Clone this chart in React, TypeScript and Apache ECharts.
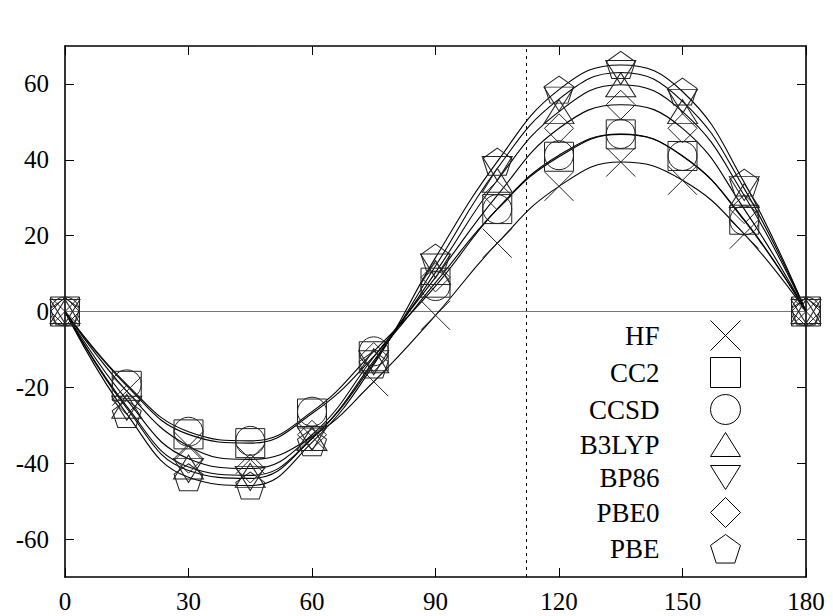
import React, { useEffect, useRef } from 'react';
import * as echarts from 'echarts';

const angles = [0, 15, 30, 45, 60, 75, 90, 105, 120, 135, 150, 165, 180];
const hf = [0, -21, -35.5, -39, -33, -18.5, -1, 18, 33, 39.4, 34.6, 20.4, 0];
const cc2 = [0, -19.6, -32.4, -34.7, -26.9, -11.8, 7.6, 27, 40.8, 46.7, 41, 24.2, 0];
const ccsd = [0, -19.2, -31.7, -34.1, -26.4, -10.5, 6.7, 27, 41.2, 46.8, 41, 24, 0];
const b3lyp = [0, -25, -41, -43.2, -33.5, -13, 10.3, 34.6, 52.7, 59.8, 52.7, 30.6, 0];
const bp86 = [0, -25.5, -41.9, -44, -33.5, -13.5, 12, 37.7, 56, 63, 55.4, 32.4, 0];
const pbe0 = [0, -23.3, -38.8, -41.4, -32.5, -12, 9, 30.6, 48.3, 54.5, 48.3, 27, 0];
const pbe = [0, -27, -43.7, -45.9, -34.5, -14, 14.2, 39.5, 58.5, 65, 58, 34, 0];

const seriesNames = ['HF', 'CC2', 'CCSD', 'B3LYP', 'BP86', 'PBE0', 'PBE'];
const seriesValues = [hf, cc2, ccsd, b3lyp, bp86, pbe0, pbe];
const xTicks = [0, 30, 60, 90, 120, 150, 180];
const yTicks = [-60, -40, -20, 0, 20, 40, 60];
const dashedAt = 112;

const symbols: Record<string, string> = {
  HF: 'path://M0 0L30 30M30 0L0 30',
  CC2: 'rect',
  CCSD: 'circle',
  B3LYP: 'path://M15 0L30 24L0 24Z',
  BP86: 'path://M0 0L30 0L15 24Z',
  PBE0: 'diamond',
  PBE: 'path://M9.51 0L19.02 6.91L15.39 18.09L3.63 18.09L0 6.91Z',
};
const symbolSizes: Record<string, number[]> = {
  HF: [29, 29],
  CC2: [29, 29],
  CCSD: [29, 29],
  B3LYP: [30, 24],
  BP86: [30, 24],
  PBE0: [29, 29],
  PBE: [29, 27],
};

const FONT = '"Liberation Serif", "Times New Roman", serif';

export default function App() {
  const ref = useRef<HTMLDivElement>(null);
  useEffect(() => {
    if (!ref.current) return;
    const chart = echarts.init(ref.current, undefined, { renderer: 'svg' });
    const axisLine = { show: true, onZero: false, lineStyle: { color: '#000', width: 1.6 } };
    const tick = { show: true, inside: true, length: 9, lineStyle: { color: '#000', width: 1 } };
    const series: any[] = seriesNames.map((name, i) => ({
      name,
      type: 'line',
      xAxisIndex: 0,
      yAxisIndex: 0,
      data: angles.map((a, j) => [a, seriesValues[i][j]]),
      smooth: 0.45,
      symbol: symbols[name],
      symbolSize: symbolSizes[name],
      showAllSymbol: true,
      lineStyle: { color: '#000', width: 1.1 },
      itemStyle: { color: 'transparent', borderColor: '#222', borderWidth: 1 },
      emphasis: { disabled: true },
      silent: true,
      z: 3,
    }));
    series[0].markLine = {
      silent: true,
      symbol: ['none', 'none'],
      label: { show: false },
      animation: false,
      z: 1,
      data: [
        { yAxis: 0, lineStyle: { color: '#777', width: 1, type: 'solid' } },
        { xAxis: dashedAt, lineStyle: { color: '#000', width: 1, type: [3, 4] } },
      ],
    };
    chart.setOption({
      animation: false,
      backgroundColor: '#fff',
      grid: { left: 65, right: 27, top: 46, bottom: 39, show: false },
      legend: {
        orient: 'vertical',
        align: 'right',
        right: 92,
        top: 320,
        padding: 0,
        itemWidth: 30,
        itemHeight: 30,
        itemGap: 6,
        selectedMode: false,
        itemStyle: { color: 'transparent', borderColor: '#000', borderWidth: 1 },
        textStyle: { fontFamily: FONT, fontSize: 27, color: '#000', padding: [0, 46, 0, 0] },
        data: seriesNames.map((n) => ({ name: n, icon: symbols[n] })),
      },
      xAxis: [
        {
          type: 'value',
          min: 0,
          max: 180,
          interval: 30,
          position: 'bottom',
          axisLine,
          axisTick: tick,
          splitLine: { show: false },
          axisLabel: { fontFamily: FONT, fontSize: 25, color: '#000', margin: 12, customValues: xTicks },
        },
        {
          type: 'value',
          min: 0,
          max: 180,
          interval: 30,
          position: 'top',
          axisLine,
          axisTick: tick,
          splitLine: { show: false },
          axisLabel: { show: false },
        },
      ],
      yAxis: [
        {
          type: 'value',
          min: -70,
          max: 70,
          position: 'left',
          axisLine,
          axisTick: { ...tick, customValues: yTicks },
          splitLine: { show: false },
          axisLabel: { fontFamily: FONT, fontSize: 25, color: '#000', margin: 16, customValues: yTicks },
        },
        {
          type: 'value',
          min: -70,
          max: 70,
          position: 'right',
          axisLine,
          axisTick: { ...tick, customValues: yTicks },
          splitLine: { show: false },
          axisLabel: { show: false, customValues: yTicks },
        },
      ],
      series,
    });
    return () => chart.dispose();
  }, []);
  return <div ref={ref} style={{ width: 833, height: 616, position: 'absolute', left: 0, top: 0 }} />;
}
